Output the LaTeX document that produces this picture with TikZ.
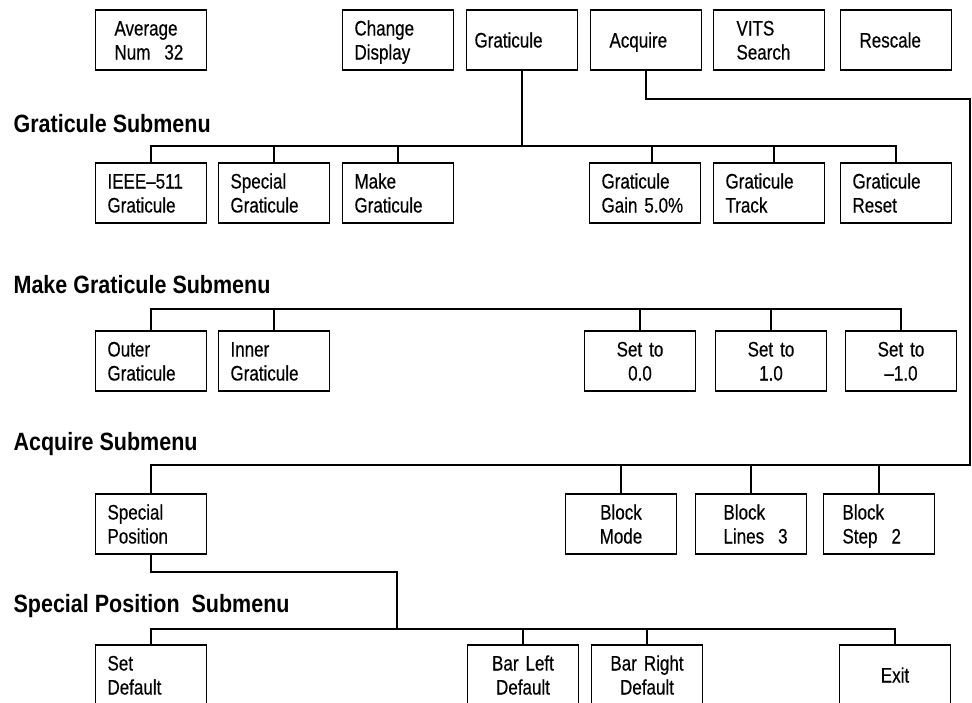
\documentclass[tikz,border=0pt]{standalone}
\usepackage{fontspec}
\setmainfont{Liberation Sans}[FakeStretch=0.81, FakeBold=0.4]
\newfontfamily\headfont{Liberation Sans}[FakeStretch=0.86]

\begin{document}
\begin{tikzpicture}[
		x=1pt, y=-1pt,
		line width=1.2pt,
		box/.style={draw, minimum width=111pt, minimum height=60pt, inner sep=0pt,
			text height=15pt, text depth=24pt,
			font=\fontsize{21}{24}\selectfont},
		lbox/.style={box, inner xsep=12pt, text width=87pt, align=left},
		wbox/.style={box, inner xsep=19pt, text width=73pt, align=left},
		cbox/.style={box, text width=111pt, align=center},
		oneline/.style={text depth=0pt},
		heading/.style={anchor=base west, inner sep=0pt,
			font=\headfont\bfseries\fontsize{25}{30}\selectfont}
	]
	\useasboundingbox (0,0) rectangle (972,702);
	\clip (0,0) rectangle (972,702);

	% top menu
	\node[wbox] (avg) at (151,40) {Average\\Num~~32};
	\node[lbox] (chdisp) at (398,40) {Change\\Display};
	\node[lbox, oneline, inner xsep=8pt, text width=95pt] (grat) at (522,40) {Graticule};
	\node[wbox, oneline] (acq) at (646,40) {Acquire};
	\node[box, inner xsep=23pt, text width=65pt, align=left] (vits) at (769,40) {VITS\\Search};
	\node[wbox, oneline] (resc) at (896,40) {Rescale};

	% graticule submenu
	\node[heading] (ghead) at (13,132) {Graticule Submenu};
	\node[lbox] (ieee) at (151,193) {IEEE--511\\Graticule};
	\node[lbox] (sgrat) at (274,193) {Special\\Graticule};
	\node[lbox] (mgrat) at (398,193) {Make\\Graticule};
	\node[lbox] (ggain) at (645,193) {Graticule\\Gain 5.0\%};
	\node[lbox] (gtrack) at (769,193) {Graticule\\Track};
	\node[lbox] (greset) at (896,193) {Graticule\\Reset};

	% make graticule submenu
	\node[heading] (mhead) at (13,293) {Make Graticule Submenu};
	\node[lbox] (outer) at (151,361) {Outer\\Graticule};
	\node[lbox] (inner) at (274,361) {Inner\\Graticule};
	\node[cbox] (set0) at (640,361) {Set to\\0.0};
	\node[cbox] (set1) at (771,361) {Set to\\1.0};
	\node[cbox] (setm) at (901,361) {Set to\\--1.0};

	% acquire submenu
	\node[heading] (ahead) at (13,450) {Acquire Submenu};
	\node[lbox] (spos) at (151,524) {Special\\Position};
	\node[cbox] (bmode) at (621,524) {Block\\Mode};
	\node[box, inner xsep=28pt, text width=55pt, align=left] (blines) at (751,524) {Block\\Lines~~3};
	\node[wbox] (bstep) at (879,524) {Block\\Step~~2};

	% special position submenu
	\node[heading] (shead) at (13,612) {Special Position~~Submenu};
	\node[lbox] (sdef) at (151,675) {Set\\Default};
	\node[cbox] (barl) at (523,675) {Bar Left\\Default};
	\node[cbox] (barr) at (647,675) {Bar Right\\Default};
	\node[cbox, oneline] (exit) at (895,675) {Exit};

	% buses
	\coordinate (gbus) at (522,146);
	\coordinate (gainstub) at ([xshift=7pt]ggain.north);
	\coordinate (trackstub) at ([xshift=5pt]gtrack.north);
	\coordinate (mbus) at (530,309);
	\coordinate (aturn) at (970,99);
	\coordinate (abus) at (970,465);
	\coordinate (sturn) at (397,572);
	\coordinate (sbus) at (397,629);

	\draw (grat.south) -- (gbus);
	\draw (ieee.north) |- (gbus) -| (greset.north);
	\path[draw]
		(sgrat.north) edge (sgrat.north |- gbus)
		(mgrat.north) edge (mgrat.north |- gbus)
		(gainstub) edge (gainstub |- gbus)
		(trackstub) edge (trackstub |- gbus);

	\draw (outer.north) |- (mbus) -| (setm.north);
	\path[draw]
		(inner.north) edge (inner.north |- mbus)
		(set0.north) edge (set0.north |- mbus)
		(set1.north) edge (set1.north |- mbus);

	\draw (acq.south) |- (aturn) -- (abus) -| (spos.north);
	\path[draw]
		(bmode.north) edge (bmode.north |- abus)
		(blines.north) edge (blines.north |- abus)
		(bstep.north) edge (bstep.north |- abus);

	\draw (spos.south) |- (sturn) -- (sbus);
	\draw (sdef.north) |- (sbus) -| (exit.north);
	\path[draw]
		(barl.north) edge (barl.north |- sbus)
		(barr.north) edge (barr.north |- sbus);
\end{tikzpicture}
\end{document}
